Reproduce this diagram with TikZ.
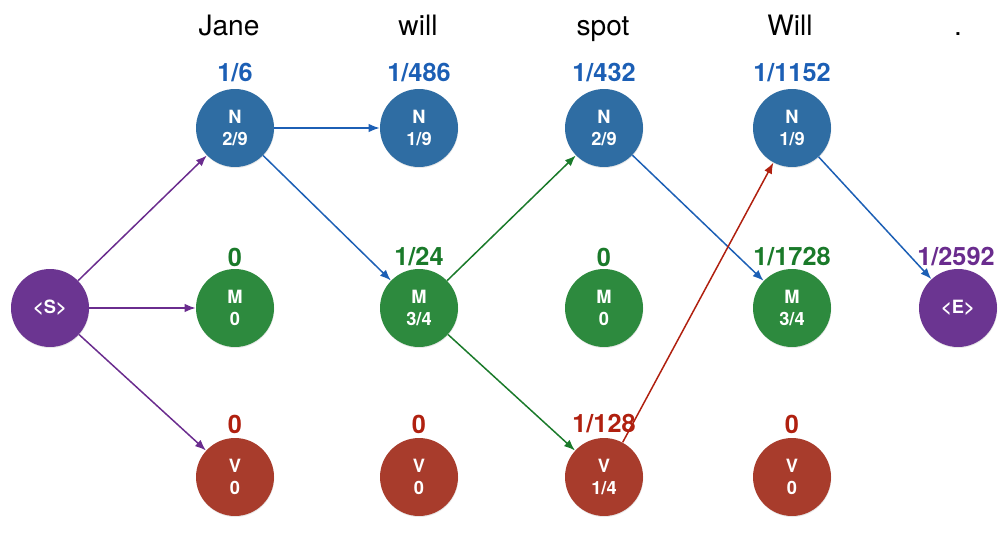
\documentclass[tikz,border=0pt]{standalone}
\usepackage{fontspec}
\setmainfont{TeX Gyre Heros}
\usetikzlibrary{arrows.meta,shadows}
\definecolor{nfill}{HTML}{2F6DA3}
\definecolor{mfill}{HTML}{2D8A3E}
\definecolor{vfill}{HTML}{A83C2C}
\definecolor{sfill}{HTML}{6B3591}
\definecolor{nlab}{HTML}{1C5FB5}
\definecolor{mlab}{HTML}{1A7A2A}
\definecolor{vlab}{HTML}{B0200F}
\definecolor{slab}{HTML}{6A2C8E}
\begin{document}
\begin{tikzpicture}
   [
   x=0.02cm, y=-0.02cm,
   ball/.style={circle, align=center, text=white, minimum size=1.56cm, inner sep=0pt,
      font=\bfseries\fontsize{10.4}{12.2}\selectfont,
      drop shadow={opacity=0.18, shadow xshift=0.2pt, shadow yshift=-0.6pt}},
   nball/.style={ball, fill=nfill},
   mball/.style={ball, fill=mfill},
   vball/.style={ball, fill=vfill},
   sball/.style={ball, fill=sfill},
   score/.style={font=\bfseries\fontsize{14.4}{16}\selectfont},
   word/.style={anchor=base, font=\fontsize{16}{19}\selectfont},
   edge/.style={line width=0.85pt, -{Latex[length=2.2mm,width=1.7mm]}},
   ]
 \useasboundingbox (0,0) rectangle (1000,537);
 % words
 \node at (229,36) [word] (w1) {Jane};
 \node at (418,36) [word] (w2) {will};
 \node at (603,36) [word] (w3) {spot};
 \node at (790,36) [word] (w4) {Will};
 \node at (958,36) [word] (w5) {.};
 % start and end
 \node at (50,308) [sball] (s) {<S>};
 \node at (958,308) [sball] (e) {<E>};
 \node at (956,257) [score, text=slab] (se) {1/2592};
 % column 1
 \node at (235,128) [nball] (n1) {N\\2/9};
 \node at (235,308) [mball] (m1) {M\\0};
 \node at (235,477) [vball] (v1) {V\\0};
 \node at (235,73) [score, text=nlab] (sn1) {1/6};
 \node at (235,257) [score, text=mlab] (sm1) {0};
 \node at (235,424) [score, text=vlab] (sv1) {0};
 % column 2
 \node at (419,128) [nball] (n2) {N\\1/9};
 \node at (419,308) [mball] (m2) {M\\3/4};
 \node at (419,477) [vball] (v2) {V\\0};
 \node at (419,73) [score, text=nlab] (sn2) {1/486};
 \node at (419,257) [score, text=mlab] (sm2) {1/24};
 \node at (419,424) [score, text=vlab] (sv2) {0};
 % column 3
 \node at (604,128) [nball] (n3) {N\\2/9};
 \node at (604,308) [mball] (m3) {M\\0};
 \node at (604,477) [vball] (v3) {V\\1/4};
 \node at (604,73) [score, text=nlab] (sn3) {1/432};
 \node at (604,257) [score, text=mlab] (sm3) {0};
 \node at (604,424) [score, text=vlab] (sv3) {1/128};
 % column 4
 \node at (792,128) [nball] (n4) {N\\1/9};
 \node at (792,308) [mball] (m4) {M\\3/4};
 \node at (792,477) [vball] (v4) {V\\0};
 \node at (792,73) [score, text=nlab] (sn4) {1/1152};
 \node at (792,257) [score, text=mlab] (sm4) {1/1728};
 \node at (792,424) [score, text=vlab] (sv4) {0};
 % best paths
 \draw[edge, slab] (s) -- (n1);
 \draw[edge, slab] (s) -- (m1);
 \draw[edge, slab] (s) -- (v1);
 \draw[edge, nlab] (n1) -- (n2);
 \draw[edge, nlab] (n1) -- (m2);
 \draw[edge, mlab] (m2) -- (n3);
 \draw[edge, mlab] (m2) -- (v3);
 \draw[edge, nlab] (n3) -- (m4);
 \draw[edge, vlab] (v3) -- (n4);
 \draw[edge, nlab] (n4) -- (e);
\end{tikzpicture}
\end{document}
